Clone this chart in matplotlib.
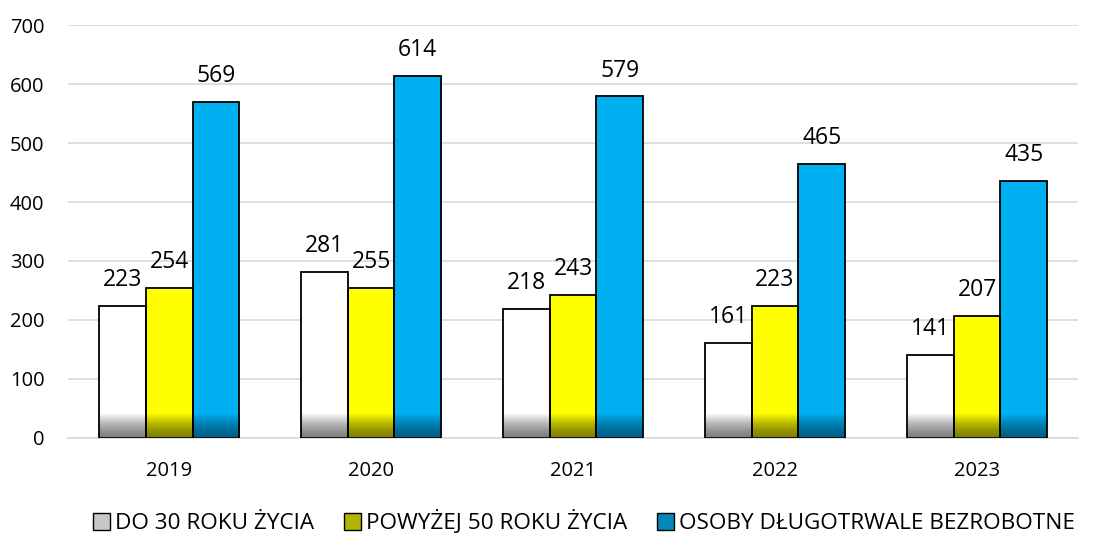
import numpy as np
import matplotlib
matplotlib.use("Agg")
import matplotlib.pyplot as plt
from matplotlib.patches import Patch
from matplotlib.colors import to_rgb

plt.rcParams["font.family"] = ["Open Sans", "DejaVu Sans"]

years = ["2019", "2020", "2021", "2022", "2023"]
series_names = ["DO 30 ROKU ŻYCIA", "POWYŻEJ 50 ROKU ŻYCIA", "OSOBY DŁUGOTRWALE BEZROBOTNE"]
under_30 = [223, 281, 218, 161, 141]
over_50 = [254, 255, 243, 223, 207]
long_term = [569, 614, 579, 465, 435]

COLORS = ["#ffffff", "#ffff00", "#00b0f0"]
DARK = ["#808080", "#808000", "#005f88"]
LEGEND_FILL = ["#c8c8c8", "#b4b400", "#0088bb"]


def shade_bar(ax, rect, top_color, bottom_color, grad_h):
    x0 = rect.get_x()
    w = rect.get_width()
    h = min(grad_h, rect.get_height())
    t = np.linspace(0, 1, 64)[:, None] ** 1.5
    top = np.array(to_rgb(top_color))
    bot = np.array(to_rgb(bottom_color))
    img = bot + (top - bot) * t[:, :, None] * np.ones((1, 2, 1))
    ax.imshow(img, extent=[x0, x0 + w, 0, h], origin="lower",
              aspect="auto", zorder=2.5, interpolation="bilinear")


fig = plt.figure(figsize=(11, 5.34), dpi=100)
ax = fig.add_axes([0.062, 0.18, 0.918, 0.773])

x = np.arange(len(years))
width = 0.231
data = [under_30, over_50, long_term]
for i, vals in enumerate(data):
    pos = x + (i - 1) * width
    bars = ax.bar(pos, vals, width, color=COLORS[i], edgecolor="none", zorder=2)
    for rect, v in zip(bars, vals):
        shade_bar(ax, rect, COLORS[i], DARK[i], 42)
    ax.bar(pos, vals, width, fill=False, edgecolor="black", linewidth=1.3, zorder=3)
    for p, v in zip(pos, vals):
        ax.annotate(str(v), (p, v), xytext=(0, 10), textcoords="offset points",
                    ha="center", va="bottom", fontsize=16.5, zorder=4)

ax.set_xlim(-0.5, len(years) - 0.5)
ax.set_ylim(0, 700)
ax.set_yticks(range(0, 701, 100))
ax.set_xticks(x)
ax.set_xticklabels(years)
ax.tick_params(axis="both", length=0, labelsize=14.5)
ax.tick_params(axis="x", pad=17)
ax.tick_params(axis="y", pad=17)
ax.grid(axis="y", color="#d9d9d9", linewidth=1.2, zorder=0)
ax.set_axisbelow(True)
for side in ["top", "right", "left"]:
    ax.spines[side].set_visible(False)
ax.spines["bottom"].set_color("#d9d9d9")
ax.spines["bottom"].set_linewidth(1.2)

handles = [Patch(facecolor=LEGEND_FILL[i], edgecolor="black", linewidth=1.0)
           for i in range(3)]
fig.legend(handles, series_names, loc="center", bbox_to_anchor=(0.531, 0.022),
           ncol=3, frameon=False, fontsize=16.2, handlelength=0.75, handleheight=0.75,
           handletextpad=0.25, columnspacing=1.3)

fig.savefig("out.png", dpi=100)
